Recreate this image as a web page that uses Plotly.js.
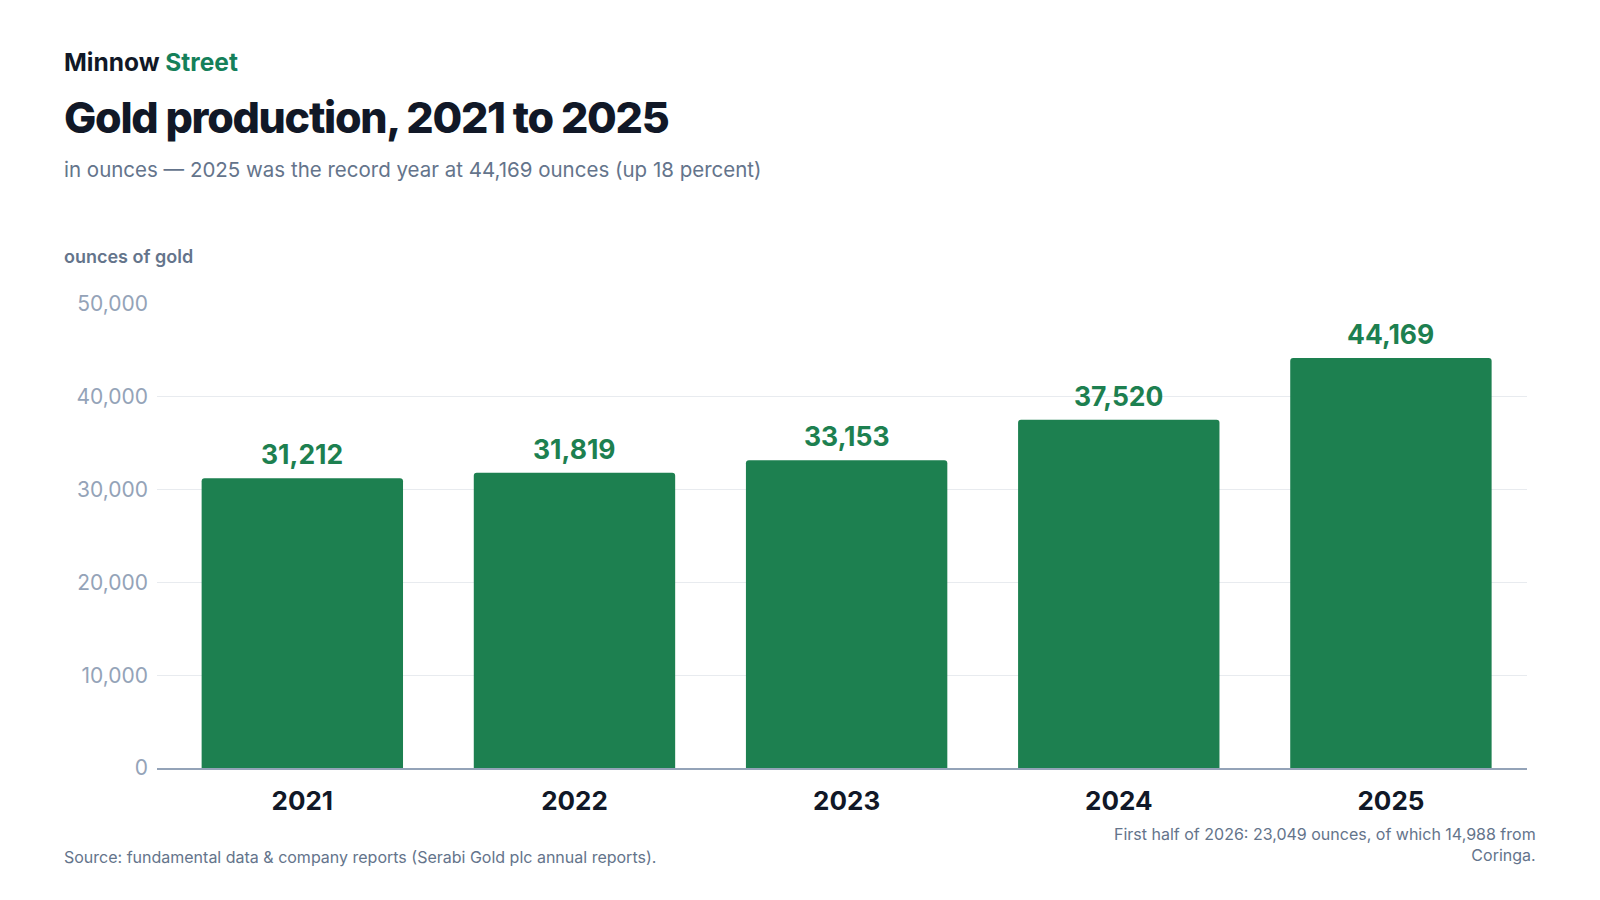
<!DOCTYPE html>
<html>
<head>
<meta charset="utf-8">
<script src="https://cdn.plot.ly/plotly-3.0.1.min.js"></script>
<style>
  html, body { margin: 0; padding: 0; background: #fff; }
  #chart { width: 1600px; height: 900px; }
  /* tighter headline, like the original */
  .annotation[data-index="1"] text { letter-spacing: -1.3px; }
</style>
</head>
<body>
<div id="chart"></div>
<script>
var years = ["2021", "2022", "2023", "2024", "2025"];
var ounces = [31212, 31819, 33153, 37520, 44169];
var yTicks = [0, 10000, 20000, 30000, 40000, 50000];

var GREEN = "#1d8050";
var FONT = "Inter, 'Noto Sans', sans-serif";

// left edge of the header / footer text, in paper units
var LEFT = -0.0693;

function showChart() {
    var chart = document.getElementById("chart");

    // value labels above the bars (x as category index, "2021" would be read as a number)
    var valueLabels = ounces.map(function (v, i) {
        return {
            x: i, y: v, xref: "x", yref: "y",
            text: v.toLocaleString("en-US"),
            showarrow: false, yanchor: "bottom", yshift: 6,
            font: { family: FONT, size: 26.5, color: GREEN, weight: 700 }
        };
    });

    var textNotes = [
        { xref: "paper", yref: "paper", x: LEFT, y: 1.5205, xanchor: "left", yanchor: "middle",
          showarrow: false, align: "left",
          text: "<span style='color:#111827'>Minnow</span> <span style='color:#15805a'>Street</span>",
          font: { family: FONT, size: 24.5, weight: 700 } },
        { xref: "paper", yref: "paper", x: LEFT, y: 1.4030, xanchor: "left", yanchor: "middle",
          showarrow: false, align: "left",
          text: "Gold production, 2021 to 2025",
          font: { family: FONT, size: 43, color: "#111827", weight: 800 } },
        { xref: "paper", yref: "paper", x: LEFT, y: 1.2909, xanchor: "left", yanchor: "middle",
          showarrow: false, align: "left",
          text: "in ounces \u2014 2025 was the record year at 44,169 ounces (up 18 percent)",
          font: { family: FONT, size: 20.5, color: "#64748b" } },
        { xref: "paper", yref: "paper", x: LEFT, y: 1.1013, xanchor: "left", yanchor: "middle",
          showarrow: false, align: "left",
          text: "ounces of gold",
          font: { family: FONT, size: 18, color: "#64748b", weight: 600 } },
        { xref: "paper", yref: "paper", x: LEFT, y: -0.1918, xanchor: "left", yanchor: "middle",
          showarrow: false, align: "left",
          text: "Source: fundamental data & company reports (Serabi Gold plc annual reports).",
          font: { family: FONT, size: 16, color: "#64748b" } },
        { xref: "paper", yref: "paper", x: 1.008, y: -0.1659, xanchor: "right", yanchor: "middle",
          showarrow: false, align: "right",
          text: "First half of 2026: 23,049 ounces, of which 14,988 from<br>Coringa.",
          font: { family: FONT, size: 16, color: "#64748b" } }
    ];

    Plotly.newPlot(chart, [{
        type: "bar",
        x: years,
        y: ounces,
        marker: { color: GREEN, cornerradius: 3 },
        hoverinfo: "skip"
    }], {
        width: 1600,
        height: 900,
        paper_bgcolor: "#ffffff",
        plot_bgcolor: "#ffffff",
        margin: { l: 157, r: 73, t: 304, b: 132 },
        bargap: 0.26,
        showlegend: false,
        font: { family: FONT },
        xaxis: {
            type: "category",
            range: [-0.534, 4.5],
            showgrid: false,
            showline: true,
            linecolor: "#94a3b8",
            linewidth: 2,
            ticks: "",
            tickfont: { family: FONT, size: 26, color: "#111827", weight: 700 },
            ticklabelstandoff: 9
        },
        yaxis: {
            range: [0, 50000],
            tickvals: yTicks,
            tickformat: ",d",
            showgrid: true,
            gridcolor: "#e8ebef",
            gridwidth: 1,
            zeroline: false,
            showline: false,
            ticks: "",
            ticklabelstandoff: 8,
            tickfont: { family: FONT, size: 21, color: "#94a3b8" }
        },
        annotations: textNotes.concat(valueLabels)
    }, {
        displayModeBar: false,
        staticPlot: true
    });
}

showChart();
</script>
</body>
</html>
